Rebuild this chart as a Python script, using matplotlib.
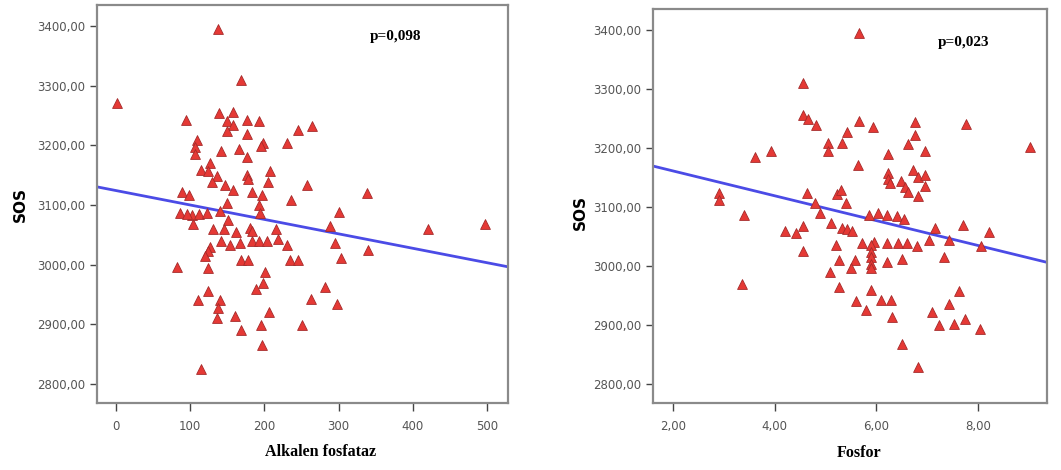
import matplotlib
matplotlib.use("Agg")
import matplotlib.pyplot as plt
import numpy as np

# ---------------- data ----------------
alp_x = [1, 137, 169, 94, 139, 157, 150, 158, 149, 177, 192, 245, 264, 176, 198, 195, 231,
         109, 107, 106, 141, 166, 176, 127, 115, 124, 136, 129, 177, 178, 208, 205,
         147, 158, 183, 196, 192, 149, 257, 236, 89, 99, 338, 420, 497, 288, 300,
         86, 102, 95, 112, 122, 104, 140, 151, 131, 145, 181, 216, 194, 162, 183,
         142, 153, 167, 183, 192, 203, 218, 230, 127, 124, 120, 295, 339,
         169, 178, 234, 245, 303, 82, 124, 201, 198, 189, 281,
         124, 111, 140, 137, 136, 160, 206, 262, 298, 169, 195, 250, 197, 114]
alp_y = [3270, 3395, 3310, 3243, 3254, 3255, 3240, 3234, 3223, 3243, 3241, 3226, 3233, 3219, 3203, 3199, 3203,
         3209, 3197, 3186, 3191, 3193, 3181, 3170, 3159, 3156, 3149, 3138, 3150, 3144, 3156, 3139,
         3134, 3125, 3121, 3117, 3100, 3103, 3134, 3109, 3121, 3117, 3120, 3060, 3068, 3065, 3088,
         3086, 3083, 3085, 3085, 3087, 3068, 3089, 3075, 3060, 3060, 3061, 3060, 3087, 3054, 3057,
         3039, 3033, 3036, 3039, 3040, 3039, 3042, 3033, 3030, 3022, 3014, 3036, 3025,
         3008, 3008, 3008, 3008, 3011, 2996, 2994, 2988, 2969, 2959, 2962,
         2955, 2940, 2941, 2927, 2910, 2913, 2921, 2942, 2934, 2891, 2899, 2899, 2866, 2825]

fos_x = [5.65, 4.55, 4.55, 4.65, 4.82, 5.65, 5.93, 6.75, 7.75, 5.43, 5.32, 5.05, 5.05,
         3.62, 3.92, 6.22, 6.62, 6.75, 6.95, 9.02, 5.64, 6.22, 6.22, 6.27, 6.48, 6.57,
         6.72, 6.82, 6.95, 6.95, 6.62, 6.82, 2.90, 2.90, 3.40, 4.64, 5.22, 5.30, 5.40,
         4.80, 4.90, 5.85, 6.02, 6.20, 6.40, 6.55, 7.70, 8.22, 5.10, 5.33, 5.43, 5.52,
         4.20, 4.42, 4.55, 7.15, 4.55, 5.20, 5.72, 5.95, 6.20, 6.42, 6.60, 6.80,
         7.04, 7.43, 8.05, 5.90, 5.90, 5.90, 5.90, 5.90, 5.27, 5.57, 5.50, 5.08,
         6.21, 6.50, 7.33, 3.35, 5.27, 5.90, 5.59, 5.80, 6.09, 6.29, 6.31,
         7.63, 7.43, 7.10, 7.22, 7.53, 7.73, 8.03, 6.50, 6.81]
fos_y = [3395, 3310, 3256, 3249, 3238, 3245, 3235, 3244, 3240, 3226, 3208, 3208, 3195,
         3184, 3194, 3189, 3207, 3221, 3195, 3202, 3171, 3157, 3147, 3140, 3143, 3133,
         3162, 3151, 3154, 3136, 3126, 3118, 3123, 3112, 3087, 3123, 3122, 3129, 3106,
         3106, 3089, 3087, 3089, 3087, 3084, 3080, 3070, 3057, 3072, 3065, 3062, 3059,
         3059, 3056, 3067, 3065, 3025, 3036, 3038, 3040, 3038, 3038, 3038, 3034,
         3044, 3044, 3034, 3035, 3024, 3015, 3004, 2996, 3010, 3010, 2996, 2990,
         3007, 3011, 3015, 2969, 2964, 2960, 2941, 2925, 2943, 2942, 2914,
         2958, 2935, 2922, 2900, 2902, 2911, 2893, 2868, 2829]

# fit lines (intercept, slope)
alp_fit = [3124.0, -0.242]
fos_fit = [3203.0, -21.06]

y_ticks = [2800, 2900, 3000, 3100, 3200, 3300, 3400]
alp_ticks = [0, 100, 200, 300, 400, 500]
fos_ticks = [2, 4, 6, 8]
p_texts = ["p=0,098", "p=0,023"]
x_titles = ["Alkalen fosfataz", "Fosfor"]
y_title = "SOS"

# ---------------- figure ----------------
W, H = 1061, 470
fig = plt.figure(figsize=(W / 100, H / 100), dpi=100)
ax1 = fig.add_axes([0.0914, 0.1426, 0.3874, 0.8468])
ax2 = fig.add_axes([0.6155, 0.1426, 0.3713, 0.8383])

def fmt(v, dec):
    s = f"{v:.2f}" if dec else f"{v:.0f}"
    return s.replace(".", ",")

panels = [
    (ax1, alp_x, alp_y, alp_fit, (-25.6, 528), alp_ticks, False, p_texts[0], (377, 3382),
     x_titles[0], (321, 452), (20, 205)),
    (ax2, fos_x, fos_y, fos_fit, (1.61, 9.35), fos_ticks, True, p_texts[1], (7.71, 3378),
     x_titles[1], (859, 453), (580, 213)),
]

for ax, xs, ys, fit, xlim, xt, dec, ptxt, ppos, xlab, xlpos, ylpos in panels:
    ax.set_xlim(*xlim)
    ax.set_ylim(2768, 3435)
    xl = np.array(xlim)
    ax.plot(xl, fit[0] + fit[1] * xl, color="#4b4be6", lw=2.0, zorder=2)
    ax.scatter(xs, ys, marker="^", s=50, facecolor="#e53935", edgecolor="#a52a2a",
               linewidth=0.6, zorder=3)
    ax.set_yticks(y_ticks)
    ax.set_yticklabels([fmt(v, True) for v in y_ticks])
    ax.set_xticks(xt)
    ax.set_xticklabels([fmt(v, dec) for v in xt])
    ax.tick_params(axis="both", direction="out", length=5, width=1.0, color="#444",
                   labelsize=8.5, labelcolor="#555")
    ax.tick_params(axis="x", pad=6, length=6)
    for sp in ax.spines.values():
        sp.set_color("#8a8a8a")
        sp.set_linewidth(1.6)
    ax.text(ppos[0], ppos[1], ptxt, fontsize=11, fontweight="bold",
            family="Liberation Serif", ha="center", va="center")
    fig.text(xlpos[0] / W, 1 - xlpos[1] / H, xlab, fontsize=11.6, fontweight="bold",
             family="Liberation Serif", ha="center", va="center")
    fig.text(ylpos[0] / W, 1 - ylpos[1] / H, y_title, fontsize=11, fontweight="bold",
             rotation=90, ha="center", va="center")

fig.savefig("out.png", dpi=100)
